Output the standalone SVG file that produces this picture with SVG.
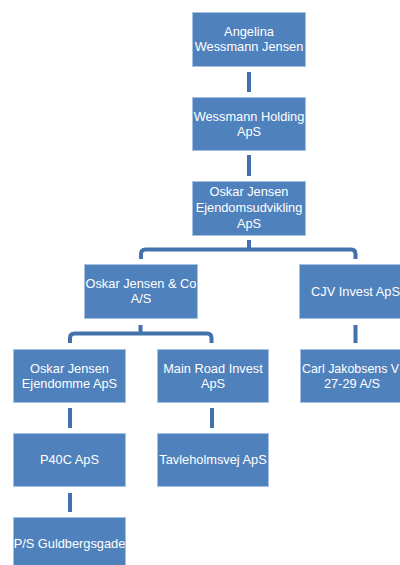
<svg xmlns="http://www.w3.org/2000/svg" width="400" height="565" viewBox="0 0 400 565">
<style>
.box{fill:#4F81BD;stroke:#A9C1E0;stroke-width:1}
.t{font-family:"Liberation Sans",Arial,sans-serif;font-size:12.8px;fill:#FFFFFF;text-anchor:middle}
.c{fill:none;stroke:#4371AC;stroke-width:4;stroke-linecap:butt;stroke-linejoin:round}
</style>
<rect width="400" height="565" fill="#FFFFFF"/>
<g id="connectors">
<path class="c" d="M249,72 V92"/>
<path class="c" d="M249,155 V176"/>
<path class="c" d="M249,240 V249.5"/>
<path class="c" d="M141,259 V254 Q141,249.5 145.5,249.5 H351 Q355.5,249.5 355.5,254 V259"/>
<path class="c" d="M140.5,325 V333.5"/>
<path class="c" d="M70,343 V338 Q70,333.5 74.5,333.5 H207 Q211.5,333.5 211.5,338 V343"/>
<path class="c" d="M355.5,325 V343"/>
<path class="c" d="M70,408 V428"/>
<path class="c" d="M212,408 V428"/>
<path class="c" d="M70,493 V512"/>
</g>
<g id="n1"><rect class="box" x="192.5" y="12.5" width="113" height="54"/>
<text class="t" x="249" y="36">Angelina</text><text class="t" x="249" y="51">Wessmann Jensen</text></g>
<g id="n2"><rect class="box" x="192.5" y="97.5" width="113" height="53"/>
<text class="t" x="249" y="120.5">Wessmann Holding</text><text class="t" x="249" y="135.5">ApS</text></g>
<g id="n3"><rect class="box" x="192.5" y="181.5" width="113" height="54"/>
<text class="t" x="249" y="196">Oskar Jensen</text><text class="t" x="249" y="212">Ejendomsudvikling</text><text class="t" x="249" y="228">ApS</text></g>
<g id="n4"><rect class="box" x="84.5" y="264.5" width="113" height="54"/>
<text class="t" x="141" y="287.5">Oskar Jensen &amp; Co</text><text class="t" x="141" y="302.5">A/S</text></g>
<g id="n5"><rect class="box" x="299.5" y="264.5" width="113" height="54"/>
<text class="t" x="355.5" y="295.5">CJV Invest ApS</text></g>
<g id="n6"><rect class="box" x="13.5" y="349.5" width="112" height="53"/>
<text class="t" x="69.5" y="372.5">Oskar Jensen</text><text class="t" x="69.5" y="387.5">Ejendomme ApS</text></g>
<g id="n7"><rect class="box" x="157.5" y="349.5" width="111" height="53"/>
<text class="t" x="213" y="372.5">Main Road Invest</text><text class="t" x="213" y="387.5">ApS</text></g>
<g id="n8"><rect class="box" x="300.5" y="349.5" width="113" height="53"/>
<text class="t" x="302" y="372.5" style="text-anchor:start;font-size:12.4px">Carl Jakobsens V</text><text class="t" x="352" y="387.5">27-29 A/S</text></g>
<g id="n9"><rect class="box" x="13.5" y="433.5" width="112" height="53"/>
<text class="t" x="69.5" y="464">P40C ApS</text></g>
<g id="n10"><rect class="box" x="157.5" y="433.5" width="111" height="53"/>
<text class="t" x="213" y="464">Tavleholmsvej ApS</text></g>
<g id="n11"><rect class="box" x="13.5" y="517.5" width="112" height="54"/>
<text class="t" x="69.5" y="548">P/S Guldbergsgade</text></g>
</svg>
